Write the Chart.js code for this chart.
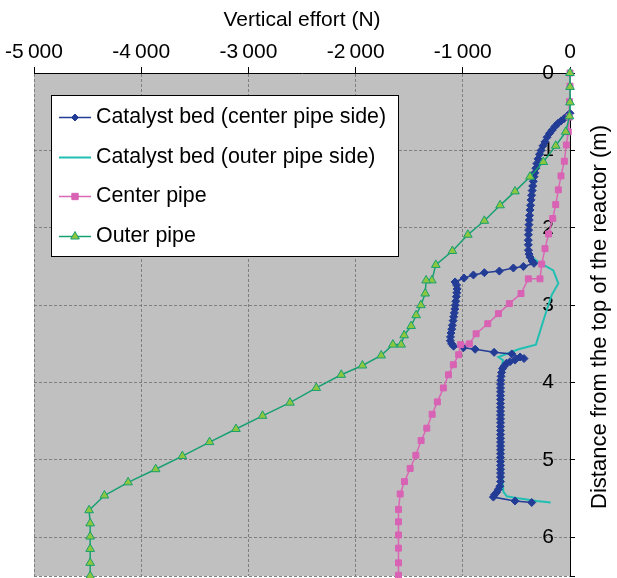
<!DOCTYPE html>
<html>
<head>
<meta charset="utf-8">
<script src="https://cdn.jsdelivr.net/npm/chart.js@4.4.1/dist/chart.umd.min.js"></script>
<style>
  html, body { margin: 0; padding: 0; background: #fff; }
  #wrap { width: 617px; height: 578px; }
</style>
</head>
<body>
<div id="wrap"><canvas id="effortChart" width="617" height="578"></canvas></div>
<script>
// [vertical effort (N), distance from the top of the reactor (m)]
const bedCenterSide = [
  [0, 0.52], [-28, 0.56], [-56, 0.59], [-84, 0.62], [-112, 0.65], [-140, 0.69], [-168, 0.74], [-191, 0.78],
  [-214, 0.83], [-233, 0.89], [-252, 0.94], [-270, 1.0], [-284, 1.05], [-298, 1.11], [-309, 1.17], [-319, 1.23],
  [-328, 1.29], [-336, 1.34], [-342, 1.4], [-348, 1.46], [-353, 1.52], [-358, 1.58], [-363, 1.64], [-368, 1.71],
  [-373, 1.77], [-377, 1.84], [-380, 1.9], [-383, 1.96], [-386, 2.03], [-388, 2.09], [-389, 2.16], [-389, 2.22],
  [-388, 2.29], [-382, 2.34], [-373, 2.38], [-354, 2.43], [-336, 2.46],
  [-435, 2.5], [-528, 2.52], [-659, 2.56], [-799, 2.58], [-901, 2.61], [-988, 2.65], [-1072, 2.7],
  [-1058, 2.74], [-1053, 2.79], [-1056, 2.84], [-1060, 2.89], [-1065, 2.95], [-1070, 3.0], [-1074, 3.05],
  [-1079, 3.1], [-1085, 3.15], [-1090, 3.2], [-1097, 3.26], [-1103, 3.31], [-1110, 3.36], [-1115, 3.41],
  [-1116, 3.46], [-1104, 3.5], [-1086, 3.53],
  [-994, 3.55], [-885, 3.57], [-708, 3.61], [-543, 3.63], [-466, 3.67], [-429, 3.69],
  [-513, 3.71], [-559, 3.73], [-592, 3.75], [-615, 3.79], [-629, 3.82], [-638, 3.87], [-643, 3.92], [-646, 3.97],
  [-648, 4.02], [-648, 4.07], [-648, 4.12], [-648, 4.17], [-648, 4.22], [-648, 4.27], [-648, 4.32], [-648, 4.37],
  [-648, 4.42], [-648, 4.47], [-648, 4.52], [-648, 4.57], [-648, 4.62], [-648, 4.67], [-648, 4.72], [-648, 4.77],
  [-648, 4.82], [-648, 4.87], [-648, 4.92], [-648, 4.97], [-648, 5.02], [-648, 5.07], [-648, 5.12], [-648, 5.17],
  [-648, 5.22], [-648, 5.28], [-654, 5.34], [-668, 5.38], [-685, 5.42], [-704, 5.45], [-715, 5.48],
  [-513, 5.53], [-357, 5.55],
];

const bedOuterSide = [
  [0, 0], [0, 0.48], [-65, 0.62], [-186, 0.79], [-280, 1.07], [-335, 1.38], [-363, 1.64], [-382, 2.03],
  [-382, 2.31], [-357, 2.38], [-296, 2.44], [-156, 2.55], [-109, 2.72], [-171, 2.87], [-235, 3.14],
  [-318, 3.51], [-480, 3.57], [-668, 3.67], [-625, 3.71], [-636, 3.8], [-636, 4.0], [-630, 5.26],
  [-622, 5.41], [-590, 5.47], [-466, 5.5], [-310, 5.53], [-180, 5.55],
];

const centerPipe = [
  [0, 0], [0, 0.17], [-5, 0.37], [-7, 0.57], [-16, 0.76], [-34, 0.93], [-53, 1.14], [-84, 1.33],
  [-109, 1.51], [-133, 1.7], [-161, 1.88], [-200, 2.08], [-233, 2.27], [-264, 2.47], [-280, 2.66],
  [-389, 2.66], [-457, 2.85], [-566, 2.98], [-668, 3.11], [-767, 3.24], [-876, 3.37], [-939, 3.5],
  [-1020, 3.51], [-1039, 3.64], [-1088, 3.77], [-1134, 3.9], [-1181, 4.07], [-1237, 4.25], [-1286, 4.41],
  [-1336, 4.59], [-1389, 4.75], [-1438, 4.94], [-1491, 5.11], [-1544, 5.28], [-1584, 5.44], [-1600, 5.64],
  [-1600, 5.8], [-1600, 5.97], [-1600, 6.14], [-1600, 6.33], [-1600, 6.49],
];

const outerPipe = [
  [0, 0], [0, 0.18], [0, 0.38], [-5, 0.56], [-40, 0.76], [-133, 0.94], [-249, 1.15], [-373, 1.34],
  [-513, 1.53], [-652, 1.71], [-799, 1.91], [-953, 2.09], [-1097, 2.3], [-1252, 2.48], [-1289, 2.68],
  [-1342, 2.68], [-1351, 2.85], [-1391, 3.0], [-1435, 3.13], [-1482, 3.27], [-1547, 3.39], [-1575, 3.51],
  [-1652, 3.51], [-1761, 3.65], [-1936, 3.78], [-2134, 3.9], [-2367, 4.07], [-2612, 4.26], [-2868, 4.43],
  [-3116, 4.6], [-3362, 4.77], [-3616, 4.95], [-3865, 5.12], [-4122, 5.29], [-4343, 5.46], [-4486, 5.65],
  [-4476, 5.82], [-4476, 5.99], [-4476, 6.15], [-4476, 6.33], [-4476, 6.5],
];

const effortTicks = [-5000, -4000, -3000, -2000, -1000, 0];
const depthTicks = [0, 1, 2, 3, 4, 5, 6];
const depthMax = 6.5;

const seriesNames = [
  'Catalyst bed (center pipe side)',
  'Catalyst bed (outer pipe side)',
  'Center pipe',
  'Outer pipe',
];

const FONT = "'Liberation Sans', Arial, Helvetica, sans-serif";
Chart.defaults.font.family = FONT;
Chart.defaults.font.size = 21;
Chart.defaults.color = '#000';

const toPoints = (rows) => rows.map(([x, y]) => ({ x, y }));

// -5000 -> "-5 000" (thin space as group separator)
const groupThousands = (v) => {
  const digits = String(Math.abs(v)).replace(/\B(?=(\d{3})+(?!\d))/g, '\u2009');
  return (v < 0 ? '-' : '') + digits;
};

const plotBackground = {
  id: 'plotBackground',
  beforeDraw(chart) {
    const { ctx, chartArea: a } = chart;
    ctx.save();
    ctx.fillStyle = '#c0c0c0';
    ctx.fillRect(a.left, a.top, a.right - a.left, a.bottom - a.top);
    ctx.restore();
  },
};

// axis title on the right, reading bottom to top
const depthTitle = {
  id: 'depthTitle',
  afterDraw(chart) {
    const { ctx, chartArea: a } = chart;
    ctx.save();
    ctx.translate(a.right + 30, a.top + 244);
    ctx.rotate(-Math.PI / 2);
    ctx.font = '22px ' + FONT;
    ctx.fillStyle = '#000';
    ctx.textAlign = 'center';
    ctx.textBaseline = 'middle';
    ctx.fillText('Distance from the top of the reactor (m)', 0, 0);
    ctx.restore();
  },
};

function drawMarker(ctx, style, x, y, r) {
  ctx.beginPath();
  if (style === 'rectRot') {
    ctx.moveTo(x, y - r);
    ctx.lineTo(x + r, y);
    ctx.lineTo(x, y + r);
    ctx.lineTo(x - r, y);
  } else if (style === 'rect') {
    const s = r * Math.SQRT1_2;
    ctx.rect(x - s, y - s, 2 * s, 2 * s);
  } else if (style === 'triangle') {
    ctx.moveTo(x, y - r);
    ctx.lineTo(x + r * Math.sin(Math.PI * 2 / 3), y + r / 2);
    ctx.lineTo(x - r * Math.sin(Math.PI * 2 / 3), y + r / 2);
  }
  ctx.closePath();
  ctx.fill();
  ctx.stroke();
}

const legendBox = {
  id: 'legendBox',
  afterDraw(chart) {
    const { ctx, chartArea: a } = chart;
    const left = a.left + 17;
    const top = a.top + 22;
    const w = 347;
    const h = 161;
    ctx.save();
    ctx.fillStyle = '#fff';
    ctx.fillRect(left, top, w, h);
    ctx.strokeStyle = '#000';
    ctx.lineWidth = 1;
    ctx.strokeRect(left + 0.5, top + 0.5, w, h);

    ctx.font = '21.4px ' + FONT;
    ctx.textBaseline = 'middle';
    chart.data.datasets.forEach((ds, i) => {
      const y = Math.round(top + 22 + i * 39.7) + 0.5;
      ctx.strokeStyle = ds.borderColor;
      ctx.lineWidth = ds.borderWidth;
      ctx.beginPath();
      ctx.moveTo(left + 8, y);
      ctx.lineTo(left + 40, y);
      ctx.stroke();
      if (ds.pointRadius > 0) {
        ctx.fillStyle = ds.pointBackgroundColor;
        ctx.strokeStyle = ds.pointBorderColor;
        ctx.lineWidth = 1;
        drawMarker(ctx, ds.pointStyle, left + 24, y, ds.legendRadius);
      }
      ctx.fillStyle = '#000';
      ctx.fillText(ds.label, left + 45, y);
    });
    ctx.restore();
  },
};

new Chart(document.getElementById('effortChart'), {
  type: 'scatter',
  data: {
    datasets: [
      {
        label: seriesNames[0],
        data: toPoints(bedCenterSide),
        showLine: true,
        borderColor: '#233c96',
        borderWidth: 1.5,
        pointStyle: 'rectRot',
        pointRadius: 4,
        pointBackgroundColor: '#233c96',
        pointBorderColor: '#233c96',
        pointBorderWidth: 1,
        legendRadius: 3.5,
        order: 2,
        clip: false,
      },
      {
        label: seriesNames[1],
        data: toPoints(bedOuterSide),
        showLine: true,
        borderColor: '#1fbfb2',
        borderWidth: 2,
        pointRadius: 0,
        order: 3,
        clip: false,
      },
      {
        label: seriesNames[2],
        data: toPoints(centerPipe),
        showLine: true,
        borderColor: '#d967b6',
        borderWidth: 1.5,
        pointStyle: 'rect',
        pointRadius: 4.2,
        pointBackgroundColor: '#d862b3',
        pointBorderColor: '#d862b3',
        pointBorderWidth: 1,
        legendRadius: 4.5,
        order: 1,
        clip: false,
      },
      {
        label: seriesNames[3],
        data: toPoints(outerPipe),
        showLine: true,
        borderColor: '#17a070',
        borderWidth: 1.5,
        pointStyle: 'triangle',
        pointRadius: 5,
        pointBackgroundColor: '#8dc63f',
        pointBorderColor: '#17a070',
        pointBorderWidth: 1,
        legendRadius: 5,
        order: 0,
        clip: false,
      },
    ],
  },
  options: {
    responsive: false,
    animation: false,
    events: [],
    layout: {
      autoPadding: false,
      padding: { left: 34, right: 42, top: 8, bottom: 2 },
    },
    plugins: {
      legend: { display: false },
      tooltip: { enabled: false },
    },
    scales: {
      x: {
        type: 'linear',
        position: 'top',
        min: effortTicks[0],
        max: effortTicks[effortTicks.length - 1],
        afterBuildTicks: (scale) => {
          scale.ticks = effortTicks.map((value) => ({ value }));
        },
        afterFit: (scale) => {
          scale.height = 65;
          scale.paddingLeft = 0;
          scale.paddingRight = 0;
        },
        ticks: {
          padding: 2.5,
          maxRotation: 0,
          autoSkip: false,
          callback: (v) => groupThousands(v),
        },
        grid: {
          color: '#7f7f7f',
          tickColor: '#000',
          tickLength: 6,
          tickBorderDash: [],
        },
        border: { color: '#000', width: 1, dash: [3, 2] },
        title: {
          display: true,
          text: 'Vertical effort (N)',
          padding: { top: 0, bottom: 7 },
        },
      },
      y: {
        type: 'linear',
        position: 'right',
        reverse: true,
        min: 0,
        max: depthMax,
        afterBuildTicks: (scale) => {
          scale.ticks = depthTicks.concat(depthMax).map((value) => ({ value }));
        },
        afterFit: (scale) => {
          scale.width = 5;
          scale.paddingTop = 0;
          scale.paddingBottom = 0;
        },
        ticks: {
          mirror: true,
          padding: -16,
          autoSkip: false,
          callback: (v) => (depthTicks.includes(v) ? String(v) : ''),
        },
        grid: {
          color: '#7f7f7f',
          tickColor: '#000',
          tickLength: 5,
          tickBorderDash: [],
        },
        border: { color: '#000', width: 1, dash: [3, 2] },
      },
    },
  },
  plugins: [plotBackground, depthTitle, legendBox],
});
</script>
</body>
</html>
